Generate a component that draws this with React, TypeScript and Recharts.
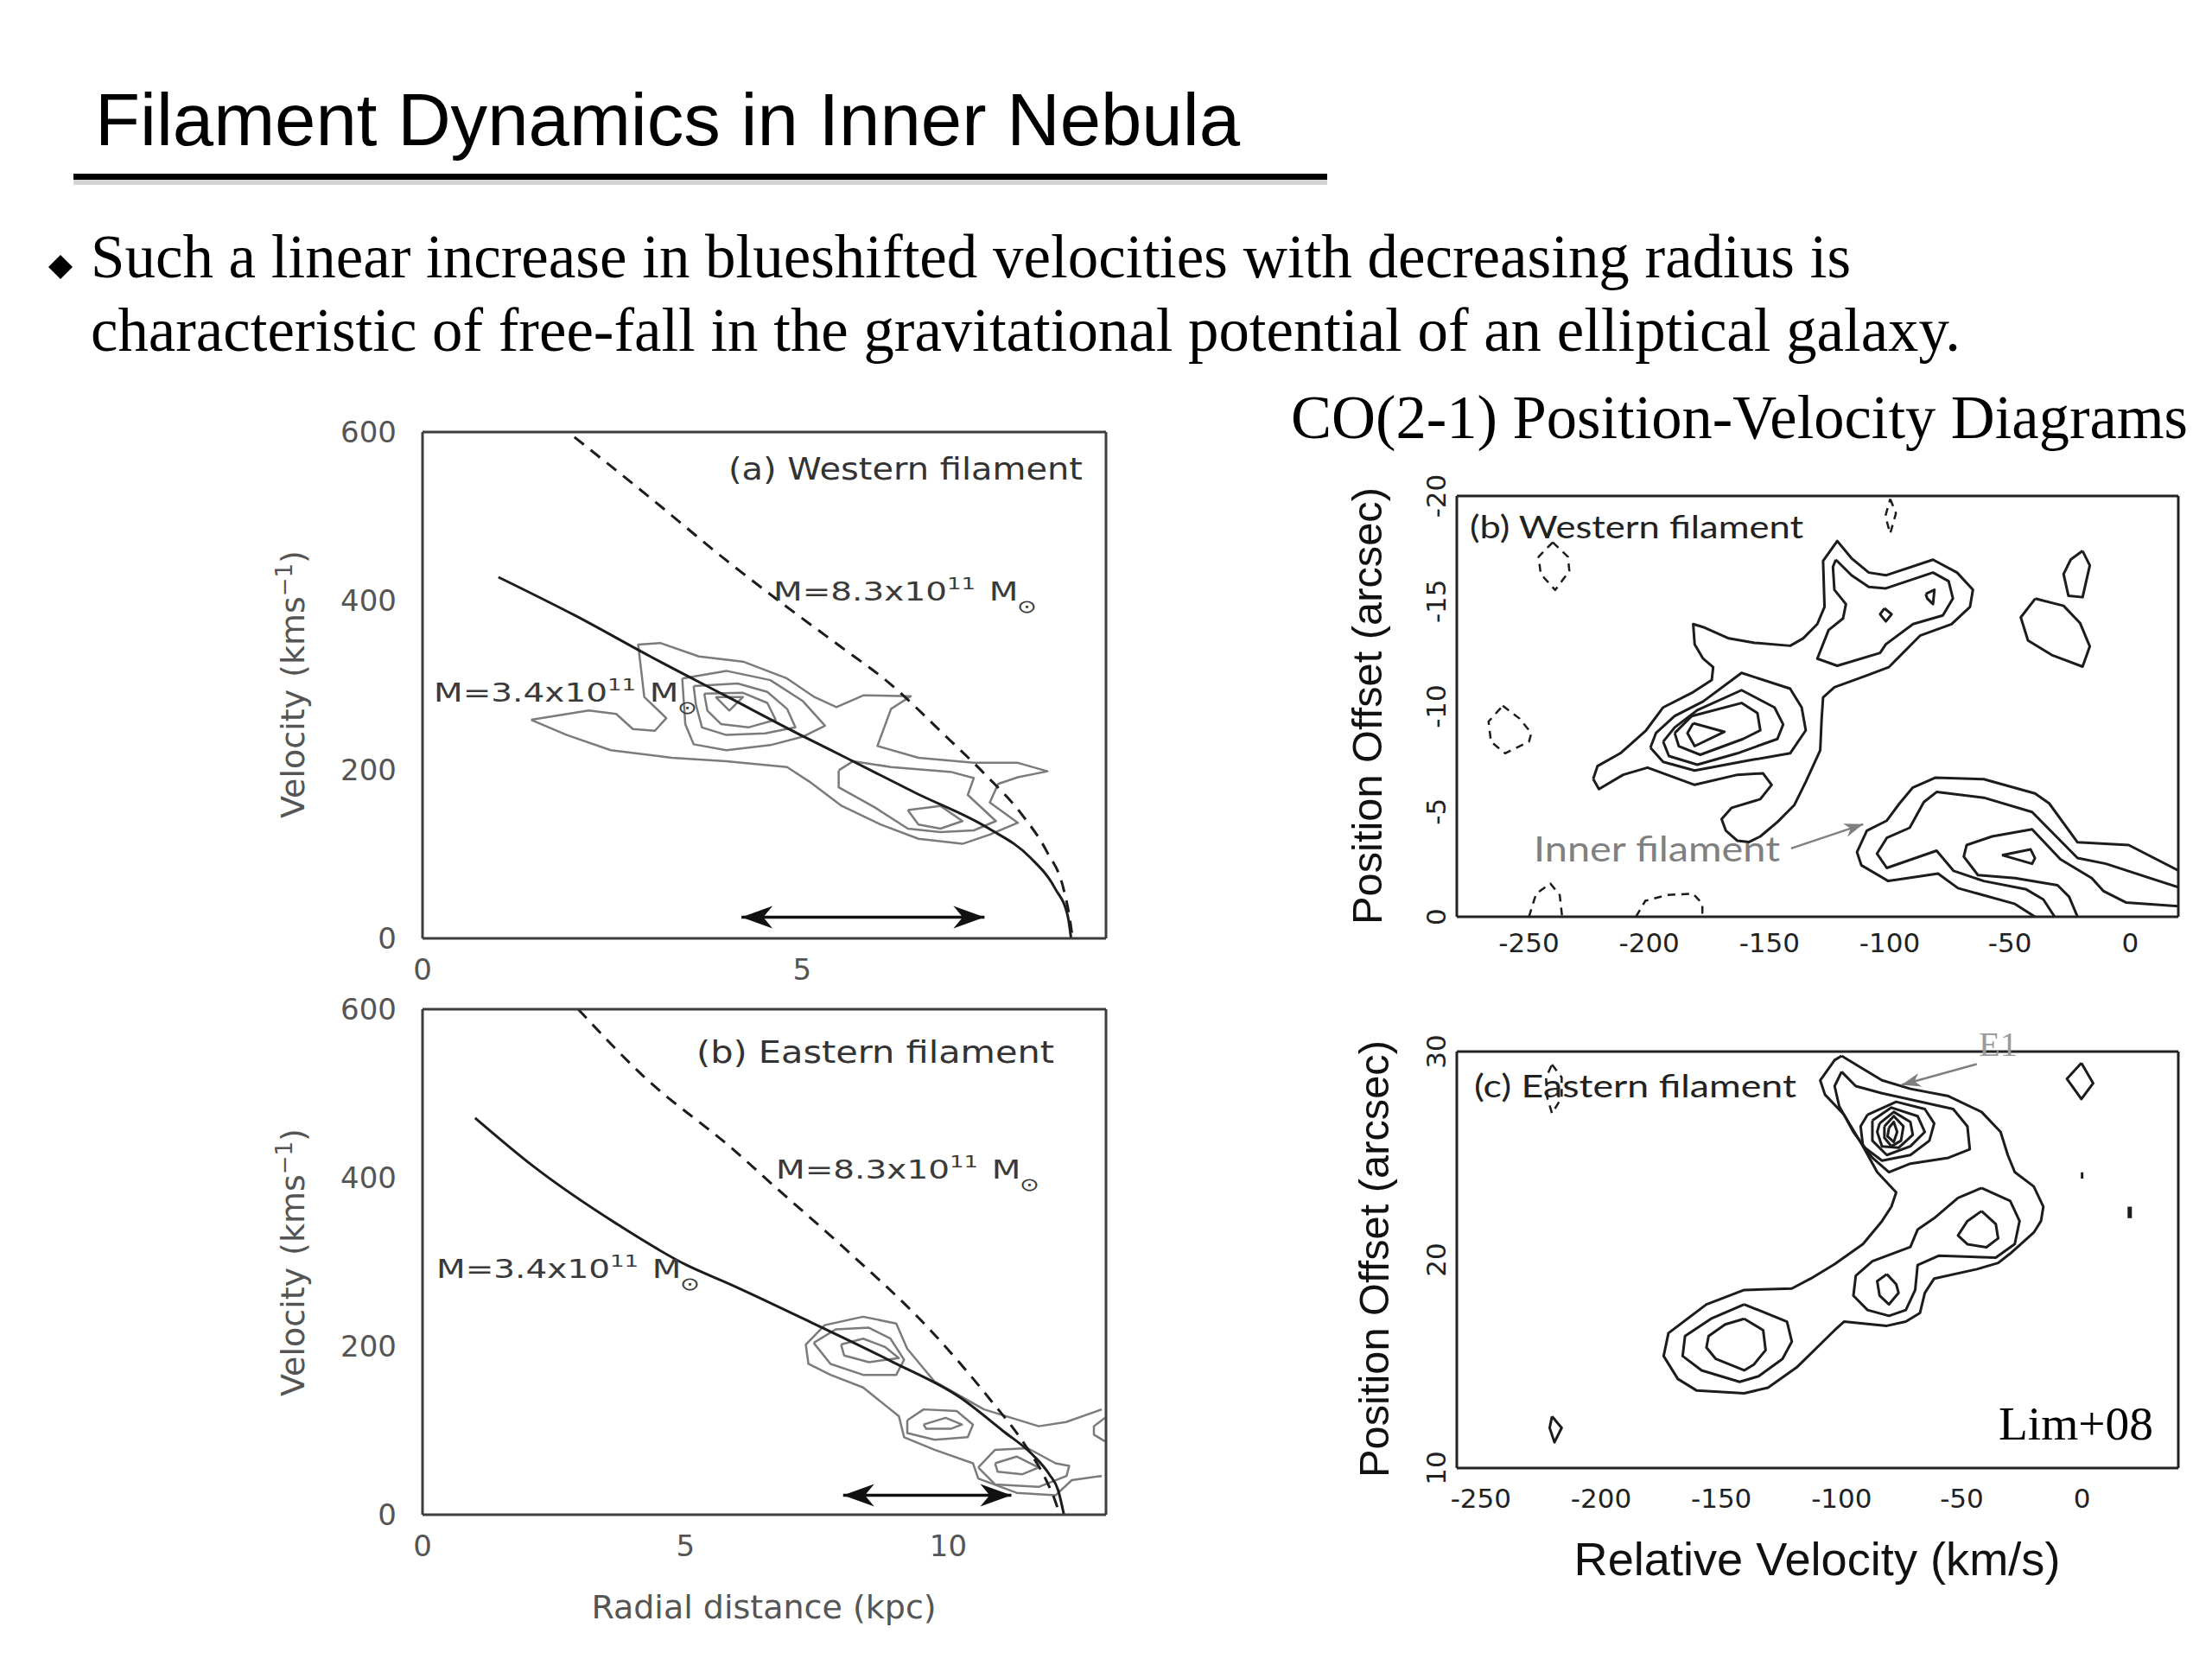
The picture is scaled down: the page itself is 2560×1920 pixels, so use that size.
import React from 'react';
import { ComposedChart, Line, XAxis, YAxis, ReferenceLine } from 'recharts';

type Pair = [number, number];
const pts = (a: Pair[]) => a.map(([x, y]) => ({ x, y }));

// ---------- tick values ----------
const kinVelTicks = [0, 200, 400, 600];
const kinVelMinor = [0, 100, 200, 300, 400, 500, 600];
const westRadTicks = [0, 5];
const westRadMinor = [0, 1, 2, 3, 4, 5, 6, 7, 8, 9];
const eastRadTicks = [0, 5, 10];
const eastRadMinor = [0, 1, 2, 3, 4, 5, 6, 7, 8, 9, 10, 11, 12, 13];
const pvVelTicks = [-250, -200, -150, -100, -50, 0];
const pvwVelMinor = [-280, -270, -260, -250, -240, -230, -220, -210, -200, -190, -180, -170, -160, -150, -140, -130, -120, -110, -100, -90, -80, -70, -60, -50, -40, -30, -20, -10, 0, 10, 20];
const pvwPosTicks = [-20, -15, -10, -5, 0];
const pvwPosMinor = [-20, -19, -18, -17, -16, -15, -14, -13, -12, -11, -10, -9, -8, -7, -6, -5, -4, -3, -2, -1, 0];
const pveVelMinor = [-260, -250, -240, -230, -220, -210, -200, -190, -180, -170, -160, -150, -140, -130, -120, -110, -100, -90, -80, -70, -60, -50, -40, -30, -20, -10, 0, 10, 20, 30, 40];
const pvePosTicks = [10, 20, 30];
const pvePosMinor = [10, 12, 14, 16, 18, 20, 22, 24, 26, 28, 30];

// ---------- (a) western filament: velocity vs radius ----------
const westModelLow = pts([[1, 428], [2, 383], [3, 334], [4, 287], [5, 240], [5.6, 213], [6.5, 172], [7.46, 130], [8.0, 96], [8.33, 59], [8.5, 25], [8.54, 0]]);
const westModelHigh = pts([[2.0, 594], [3.0, 522], [4.0, 448], [4.72, 398], [5.5, 346], [6.14, 303], [6.85, 243], [7.4, 195], [7.89, 147], [8.22, 103], [8.44, 59], [8.52, 25], [8.56, 0]]);
const westOuter = pts([[1.43, 259], [2.19, 270], [2.55, 266], [2.77, 248], [3.06, 246], [3.21, 261], [2.92, 286], [2.84, 348], [3.13, 350], [3.64, 334], [4.22, 328], [4.8, 308], [5.16, 286], [5.45, 274], [5.81, 288], [6.43, 287], [6.17, 272], [5.99, 228], [6.53, 214], [7.26, 208], [7.84, 208], [8.23, 198], [7.84, 191], [7.58, 183], [7.47, 161], [7.84, 137], [7.47, 123], [7.11, 112], [6.53, 118], [6.03, 135], [5.52, 157], [5.09, 186], [4.8, 203], [4.0, 210], [3.28, 214], [2.48, 223], [1.9, 241], [1.43, 259]]);
const westRing2 = pts([[3.42, 308], [4.0, 317], [4.58, 306], [5.01, 281], [5.3, 252], [5.01, 239], [4.58, 229], [4.0, 223], [3.57, 230], [3.46, 254], [3.42, 308]]);
const westRing3 = pts([[3.57, 299], [4.15, 302], [4.54, 292], [4.8, 272], [4.91, 250], [4.51, 243], [4.0, 241], [3.68, 250], [3.6, 277], [3.57, 299]]);
const westRing4 = pts([[3.71, 290], [4.22, 291], [4.54, 279], [4.65, 259], [4.29, 250], [3.93, 254], [3.75, 270], [3.71, 290]]);
const westPeak = pts([[3.86, 286], [4.22, 286], [4.04, 270], [3.86, 286]]);
const westLow2 = pts([[5.48, 199], [5.67, 210], [6.17, 203], [6.97, 197], [7.26, 190], [7.18, 170], [7.55, 139], [7.26, 128], [6.82, 126], [6.39, 130], [5.96, 155], [5.48, 179], [5.48, 199]]);
const westLow3 = pts([[6.39, 152], [6.82, 157], [7.11, 139], [6.82, 130], [6.53, 135], [6.39, 152]]);
const westArrow = [{ x: 4.2, y: 25 }, { x: 7.4, y: 25 }];

// ---------- (b) eastern filament: velocity vs radius ----------
const eastModelLow = pts([[1.0, 471], [2.1, 414], [3.7, 345], [5.0, 297], [5.87, 273], [7.5, 225], [8.92, 182], [10.23, 139], [11.05, 99], [11.59, 72], [11.92, 48], [12.09, 29], [12.2, 0]]);
const eastModelHigh = pts([[2.96, 600], [4.21, 520], [5.92, 433], [6.69, 390], [8.05, 315], [9.69, 217], [10.78, 138], [11.49, 80], [11.87, 40], [12.03, 17], [12.12, 0]]);
const eastOuter = pts([[12.92, 46], [12.35, 41], [12.04, 23], [11.3, 26], [10.57, 43], [10.47, 61], [9.74, 77], [9.16, 92], [9.06, 117], [8.38, 151], [7.76, 166], [7.34, 179], [7.29, 202], [7.65, 225], [8.38, 235], [9.01, 227], [9.22, 197], [9.74, 158], [10.68, 125], [11.72, 105], [12.24, 110], [12.92, 125]]);
const eastUpper2 = pts([[7.44, 204], [7.86, 220], [8.49, 222], [8.9, 209], [9.16, 184], [9.01, 166], [8.38, 166], [7.76, 179], [7.44, 204]]);
const eastUpper3 = pts([[7.96, 202], [8.38, 209], [8.8, 199], [9.06, 186], [8.49, 181], [8.02, 189], [7.96, 202]]);
const eastMid2 = pts([[9.22, 112], [9.53, 125], [10.16, 123], [10.47, 107], [10.37, 92], [9.74, 89], [9.22, 97], [9.22, 112]]);
const eastMid3 = pts([[9.53, 107], [9.95, 115], [10.26, 107], [10.05, 102], [9.58, 102], [9.53, 107]]);
const eastLow2 = pts([[10.57, 56], [10.89, 77], [11.51, 79], [12.04, 61], [12.3, 58], [12.25, 46], [11.72, 33], [10.89, 36], [10.57, 56]]);
const eastLow3 = pts([[10.89, 61], [11.3, 69], [11.72, 56], [11.41, 48], [10.94, 51], [10.89, 61]]);
const eastEdge = pts([[12.98, 115], [12.77, 105], [12.77, 95], [12.98, 87]]);
const eastArrow = [{ x: 8.0, y: 23 }, { x: 11.2, y: 23 }];

// ---------- (b) western filament PV diagram ----------
const pvwOuter = pts([[-223.3, -6.55], [-221.5, -7.16], [-212.0, -7.77], [-201.3, -8.86], [-194.2, -9.95], [-182.3, -10.64], [-174.0, -11.25], [-173.4, -11.86], [-177.6, -12.27], [-181.1, -12.95], [-181.7, -13.91], [-177.6, -13.77], [-166.9, -13.23], [-156.2, -13.02], [-141.4, -12.88], [-136.0, -13.23], [-130.1, -13.91], [-127.1, -14.73], [-127.7, -16.91], [-121.8, -17.86], [-115.9, -17.04], [-108.7, -16.36], [-101.6, -16.23], [-82.0, -16.97], [-72.0, -16.36], [-65.4, -15.54], [-66.6, -14.73], [-74.3, -13.91], [-87.4, -13.36], [-100.4, -11.86], [-109.9, -11.45], [-123.0, -10.91], [-127.7, -10.43], [-128.3, -9.41], [-128.9, -7.91], [-134.9, -6.41], [-139.6, -5.32], [-146.7, -4.5], [-153.8, -3.82], [-158.6, -3.55], [-163.3, -3.61], [-168.1, -4.09], [-169.9, -4.64], [-165.7, -5.18], [-153.8, -5.59], [-149.1, -6.27], [-152.7, -6.82], [-163.3, -6.75], [-181.1, -6.27], [-200.7, -7.09], [-210.8, -6.75], [-220.9, -6.07], [-223.3, -6.55]]);
const pvwUpper2 = pts([[-122.4, -16.97], [-115.9, -16.23], [-108.7, -15.68], [-101.6, -15.61], [-82.0, -16.36], [-75.5, -15.95], [-73.7, -15.13], [-77.9, -14.32], [-90.3, -13.91], [-101.6, -12.95], [-104.0, -12.54], [-121.8, -11.93], [-130.1, -12.27], [-125.4, -13.63], [-119.4, -14.18], [-118.2, -14.86], [-123.0, -15.54], [-123.6, -16.63], [-122.4, -16.97]]);
const pvwDot1 = pts([[-102.2, -14.66], [-99.2, -14.38], [-101.6, -14.04], [-104.0, -14.38], [-102.2, -14.66]]);
const pvwDot2 = pts([[-85.0, -15.34], [-81.4, -15.54], [-82.0, -14.86], [-84.4, -15.13], [-85.0, -15.34]]);
const pvwLow2 = pts([[-199.5, -8.04], [-197.2, -8.73], [-189.4, -9.54], [-177.6, -10.23], [-161.6, -11.59], [-141.4, -10.84], [-136.6, -9.95], [-134.9, -8.86], [-141.4, -7.77], [-158.6, -7.43], [-181.1, -6.95], [-194.2, -7.36], [-199.5, -8.04]]);
const pvwLow3 = pts([[-194.2, -8.32], [-189.4, -9.0], [-180.0, -9.82], [-161.6, -10.77], [-147.9, -9.95], [-144.3, -9.14], [-146.7, -8.45], [-163.3, -7.77], [-180.0, -7.23], [-191.8, -7.64], [-194.2, -8.32]]);
const pvwLow4 = pts([[-189.4, -8.73], [-182.3, -9.54], [-161.6, -10.16], [-155.0, -9.68], [-153.8, -8.86], [-161.0, -8.45], [-178.8, -7.7], [-187.7, -8.11], [-189.4, -8.73]]);
const pvwLow5 = pts([[-181.7, -9.2], [-168.7, -8.79], [-181.1, -8.11], [-184.1, -8.73], [-181.7, -9.2]]);
const pvwInner1 = pts([[-39.6, 0], [-47.9, -0.61], [-71.6, -1.36], [-79.9, -2.05], [-100.6, -1.7], [-111.8, -2.45], [-113.6, -3.07], [-109.5, -4.09], [-101.2, -4.57], [-95.9, -5.39], [-90.5, -6.13], [-81.1, -6.61], [-60.9, -6.54], [-39.6, -5.86], [-33.7, -5.39], [-21.9, -3.54], [-0.6, -3.41], [20, -2.2]]);
const pvwInner2 = pts([[-31.4, 0], [-36.1, -0.82], [-43.2, -1.3], [-60.9, -1.7], [-73.4, -2.18], [-80.5, -3.14], [-101.2, -2.32], [-105.3, -3.0], [-101.2, -3.75], [-91.7, -4.23], [-85.8, -5.45], [-80.5, -5.93], [-60.9, -5.66], [-40.8, -4.98], [-21.9, -2.79], [-10.1, -2.52], [20, -1.4]]);
const pvwInner3 = pts([[-21.9, 0], [-25.4, -0.95], [-30.2, -1.5], [-47.9, -1.84], [-63.3, -1.98], [-69.2, -2.86], [-68.0, -3.41], [-57.4, -3.82], [-40.8, -4.16], [-29.0, -2.73], [-16.0, -1.84], [-11.2, -1.23], [-1.8, -0.68], [20, -0.5]]);
const pvwInner4 = pts([[-53.3, -2.93], [-41.4, -3.2], [-39.6, -2.79], [-40.8, -2.52], [-53.3, -2.93]]);
const pvwBlobA = pts([[-39.5, -15.12], [-27.7, -14.78], [-20.8, -13.95], [-16.8, -12.85], [-19.8, -11.89], [-32.6, -12.44], [-42.5, -13.13], [-45.5, -14.23], [-39.5, -15.12]]);
const pvwBlobB = pts([[-19.8, -17.39], [-16.8, -16.7], [-19.8, -15.19], [-25.7, -15.26], [-27.7, -16.29], [-24.7, -16.98], [-19.8, -17.39]]);
const pvwNegA = pts([[-240.1, -17.8], [-233.8, -17.11], [-233.2, -16.43], [-239.1, -15.53], [-245.1, -16.29], [-246.0, -17.11], [-240.1, -17.8]]);
const pvwNegB = pts([[-99.8, -19.86], [-97.4, -19.18], [-99.8, -18.21], [-101.8, -19.04], [-99.8, -19.86]]);
const pvwNegC = pts([[-260.9, -10.03], [-253.9, -9.42], [-249.0, -8.73], [-250.0, -8.32], [-259.9, -7.77], [-265.8, -8.32], [-266.8, -9.28], [-260.9, -10.03]]);
const pvwNegD = pts([[-250, 0], [-247, -1.1], [-241.1, -1.58], [-237.2, -1.03], [-236.2, 0]]);
const pvwNegE = pts([[-205.5, 0], [-201.6, -0.76], [-192.7, -1.03], [-181.8, -1.1], [-177.9, -0.62], [-177.9, 0]]);
const pvwInnerArrow = [{ x: -141, y: -3.25 }, { x: -111, y: -4.4 }];

// ---------- (c) eastern filament PV diagram ----------
const pveOuter = pts([[-100.0, 29.79], [-91.1, 29.17], [-83.2, 28.62], [-71.4, 28.21], [-55.6, 27.86], [-41.8, 27.1], [-33.9, 26.14], [-30.9, 25.03], [-28.0, 24.21], [-20.1, 23.52], [-16.1, 22.55], [-17.1, 21.86], [-20.1, 21.31], [-29.9, 20.3], [-34.9, 19.85], [-43.8, 19.55], [-61.5, 19.1], [-65.4, 18.41], [-67.4, 17.45], [-73.3, 17.03], [-81.2, 16.83], [-99.0, 17.03], [-102.9, 16.62], [-118.7, 14.83], [-130.6, 13.86], [-140.5, 13.59], [-160.2, 13.72], [-168.1, 14.28], [-174.0, 15.38], [-172.0, 16.48], [-156.2, 17.86], [-140.5, 18.55], [-120.7, 18.62], [-112.8, 19.1], [-102.9, 19.79], [-91.1, 20.76], [-83.2, 21.86], [-79.3, 22.55], [-77.3, 23.24], [-85.2, 24.21], [-91.1, 25.45], [-99.0, 26.97], [-106.9, 27.93], [-108.9, 28.62], [-102.9, 29.59], [-100.0, 29.79]]);
const pveTop2 = pts([[-100.0, 29.03], [-94.1, 28.34], [-83.2, 28.0], [-53.6, 27.24], [-47.7, 26.41], [-46.7, 25.31], [-55.6, 24.9], [-71.4, 24.62], [-80.3, 24.21], [-87.2, 24.9], [-95.1, 26.14], [-101.0, 27.38], [-102.9, 28.34], [-100.0, 29.03]]);
const pveTop3 = pts([[-89.2, 26.97], [-77.3, 27.59], [-65.4, 27.24], [-61.5, 26.55], [-63.5, 25.72], [-71.4, 25.03], [-83.2, 24.76], [-91.1, 25.45], [-92.1, 26.41], [-89.2, 26.97]]);
const pveTop4 = pts([[-87.2, 26.69], [-79.3, 27.31], [-68.4, 26.9], [-65.4, 26.14], [-71.4, 25.45], [-81.2, 25.03], [-87.2, 25.72], [-87.2, 26.69]]);
const pveTop5 = pts([[-84.2, 26.55], [-78.3, 27.1], [-71.4, 26.62], [-70.4, 26.0], [-76.3, 25.38], [-83.2, 25.45], [-85.2, 26.14], [-84.2, 26.55]]);
const pveTop6 = pts([[-82.2, 26.41], [-78.3, 26.9], [-74.3, 26.41], [-75.3, 25.72], [-79.3, 25.45], [-82.2, 25.86], [-82.2, 26.41]]);
const pveTop7 = pts([[-80.3, 26.34], [-78.3, 26.62], [-76.9, 26.14], [-78.3, 25.66], [-80.9, 25.93], [-80.3, 26.34]]);
const pveMid2 = pts([[-41.8, 23.45], [-29.9, 22.83], [-26.0, 21.86], [-28.0, 20.76], [-35.9, 20.1], [-59.5, 20.2], [-68.4, 19.75], [-69.4, 18.55], [-73.3, 17.59], [-80.3, 17.31], [-89.2, 17.59], [-95.1, 18.28], [-94.1, 19.24], [-87.2, 19.93], [-71.4, 20.62], [-68.4, 21.45], [-61.5, 22.0], [-51.6, 22.97], [-41.8, 23.45]]);
const pveMidR = pts([[-41.8, 22.34], [-35.9, 21.72], [-34.9, 21.03], [-39.8, 20.6], [-47.7, 20.75], [-51.6, 21.17], [-47.7, 21.86], [-41.8, 22.34]]);
const pveMidL = pts([[-81.2, 19.31], [-77.3, 18.83], [-76.3, 18.41], [-80.3, 17.86], [-84.2, 18.28], [-85.2, 18.97], [-81.2, 19.31]]);
const pveLow2 = pts([[-140.5, 17.86], [-122.7, 17.03], [-120.7, 16.07], [-124.6, 15.24], [-134.5, 14.41], [-142.4, 14.14], [-158.2, 14.69], [-166.1, 15.38], [-165.1, 16.34], [-154.3, 17.17], [-140.5, 17.86]]);
const pveLow3 = pts([[-140.5, 17.17], [-132.6, 16.62], [-131.6, 15.66], [-136.5, 14.97], [-140.5, 14.69], [-152.3, 15.24], [-156.2, 15.79], [-155.3, 16.34], [-148.4, 16.9], [-140.5, 17.17]]);
const pveKnotTop = pts([[-0.3, 29.45], [4.6, 28.48], [-0.3, 27.72], [-6.3, 28.69], [-0.3, 29.45]]);
const pveKnotLow = pts([[-220.4, 12.48], [-216.4, 11.93], [-219.4, 11.24], [-221.4, 11.93], [-220.4, 12.48]]);
const pveSpeck1 = pts([[0, 24.2], [0, 23.9]]);
const pveSpeck2 = pts([[19.8, 22.55], [19.8, 22.0]]);
const pveNeg = pts([[-220.4, 29.38], [-216.4, 28.76], [-216.4, 27.79], [-220.4, 27.03], [-222.4, 27.79], [-222.9, 28.76], [-220.4, 29.38]]);
const pveE1Arrow = [{ x: -43.8, y: 29.4 }, { x: -75, y: 28.4 }];

const massHigh = '8.3';
const massLow = '3.4';

// ---------- styling ----------
const serif = 'Liberation Serif, Times New Roman, serif';
const sans = 'Liberation Sans, Arial, sans-serif';
const dejavu = 'DejaVu Sans, sans-serif';
const lato = 'Lato, sans-serif';
const GREY = '#7b7b7b';
const INK = '#1c1c1c';

function ArrowShape(props: any) {
  const { x1, y1, x2, y2, stroke, strokeWidth, both, len, half } = props;
  const dx = x2 - x1;
  const dy = y2 - y1;
  const L = Math.hypot(dx, dy) || 1;
  const ux = dx / L;
  const uy = dy / L;
  const nx = -uy;
  const ny = ux;
  const head = (tx: number, ty: number, sx: number, sy: number) => {
    const bx = tx - sx * len;
    const by = ty - sy * len;
    const mx = tx - sx * len * 0.7;
    const my = ty - sy * len * 0.7;
    return `${tx},${ty} ${bx + nx * half},${by + ny * half} ${mx},${my} ${bx - nx * half},${by - ny * half}`;
  };
  return (
    <g>
      <line x1={x1} y1={y1} x2={x2} y2={y2} stroke={stroke} strokeWidth={strokeWidth} />
      <polygon points={head(x2, y2, ux, uy)} fill={stroke} />
      {both && <polygon points={head(x1, y1, -ux, -uy)} fill={stroke} />}
    </g>
  );
}

function RotTick(props: any) {
  const { x, y, payload } = props;
  return (
    <text x={x} y={y} transform={`rotate(-90 ${x} ${y})`} textAnchor="middle" fontFamily={dejavu} fontSize={31} fill="#222">
      {payload.value}
    </text>
  );
}

function contour(key: string, data: { x: number; y: number }[], stroke: string, width: number, dash?: string, curve: 'linear' | 'monotone' = 'linear') {
  return (
    <Line
      key={key}
      xAxisId="x"
      yAxisId="y"
      data={data}
      dataKey="y"
      type={curve}
      stroke={stroke}
      strokeWidth={width}
      strokeDasharray={dash}
      strokeLinejoin="round"
      dot={false}
      activeDot={false}
      legendType="none"
      isAnimationActive={false}
    />
  );
}

type PanelProps = {
  left: number;
  top: number;
  width: number;
  height: number;
  mTop: number;
  mRight: number;
  xDomain: [number, number];
  yDomain: [number, number];
  reversed?: boolean;
  xTicks: number[];
  xMinor: number[];
  yTicks: number[];
  yMinor: number[];
  frame: string;
  majorLen: number;
  minorLen: number;
  xAxisH: number;
  xGap: number;
  yGap: number;
  tickStyle: any;
  yTick?: any;
  children: React.ReactNode;
};

function Panel(p: PanelProps) {
  const axisLine = { stroke: p.frame, strokeWidth: 3 };
  const tickLine = { stroke: p.frame, strokeWidth: 2.5 };
  const xa = (id: string, orientation: 'top' | 'bottom', ticks: number[], len: number, withLine: boolean) => (
    <XAxis key={id} xAxisId={id} orientation={orientation} mirror type="number" domain={p.xDomain} allowDataOverflow
      ticks={ticks} interval={0} tick={false} tickSize={len} tickLine={tickLine} axisLine={withLine ? axisLine : false} height={1} />
  );
  const ya = (id: string, orientation: 'left' | 'right', ticks: number[], len: number, withLine: boolean) => (
    <YAxis key={id} yAxisId={id} orientation={orientation} mirror type="number" domain={p.yDomain} allowDataOverflow reversed={p.reversed}
      ticks={ticks} interval={0} tick={false} tickSize={len} tickLine={tickLine} axisLine={withLine ? axisLine : false} width={1} />
  );
  return (
    <div style={{ position: 'absolute', left: p.left, top: p.top }}>
      <ComposedChart width={p.width} height={p.height} margin={{ top: p.mTop, right: p.mRight, bottom: 0, left: 0 }}>
        <XAxis xAxisId="x" dataKey="x" type="number" domain={p.xDomain} allowDataOverflow ticks={p.xTicks} interval={0}
          tickLine={false} axisLine={false} tickSize={0} tickMargin={p.xGap} height={p.xAxisH} tick={p.tickStyle} />
        <YAxis yAxisId="y" dataKey="y" type="number" domain={p.yDomain} allowDataOverflow reversed={p.reversed} ticks={p.yTicks} interval={0}
          tickLine={false} axisLine={false} tickSize={0} tickMargin={p.yGap} width={100} tick={p.yTick ?? p.tickStyle} />
        {xa('xb', 'bottom', p.xTicks, p.majorLen, true)}
        {xa('xbm', 'bottom', p.xMinor, p.minorLen, false)}
        {xa('xt', 'top', p.xTicks, p.majorLen, true)}
        {xa('xtm', 'top', p.xMinor, p.minorLen, false)}
        {ya('yl', 'left', p.yTicks, p.majorLen, true)}
        {ya('ylm', 'left', p.yMinor, p.minorLen, false)}
        {ya('yr', 'right', p.yTicks, p.majorLen, true)}
        {ya('yrm', 'right', p.yMinor, p.minorLen, false)}
        {p.children}
      </ComposedChart>
    </div>
  );
}

function MassLabel({ x, y, mant }: { x: number; y: number; mant: string }) {
  return (
    <g transform={`translate(${x} ${y}) scale(1.3 1)`}>
      <text x={0} y={0} fontFamily={dejavu} fontSize={30} fill="#3a3a3a">
        {`M=${mant}x10`}
        <tspan y={-13} fontSize={20}>11</tspan>
        <tspan y={0} dx={12} fontSize={30}>M</tspan>
        <tspan y={14} dx={-1} fontSize={21}>⊙</tspan>
      </text>
    </g>
  );
}

const leftTick = { fill: '#555', fontSize: 34, fontFamily: dejavu };
const rightTick = { fill: '#222', fontSize: 31, fontFamily: dejavu };

export default function App() {
  return (
    <div style={{ position: 'absolute', left: 0, top: 0, width: 2560, height: 1920, background: '#fff', overflow: 'hidden' }}>
      <Panel left={389} top={480} width={911} height={676} mTop={20} mRight={20}
        xDomain={[0, 9]} yDomain={[0, 600]} xTicks={westRadTicks} xMinor={westRadMinor} yTicks={kinVelTicks} yMinor={kinVelMinor}
        frame="#3d3d3d" majorLen={20} minorLen={12} xAxisH={70} xGap={24} yGap={30} tickStyle={leftTick}>
        {contour('wo', westOuter, GREY, 2.5)}
        {contour('w2', westRing2, GREY, 2.5)}
        {contour('w3', westRing3, GREY, 2.5)}
        {contour('w4', westRing4, GREY, 2.5)}
        {contour('w5', westPeak, GREY, 2.5)}
        {contour('wl2', westLow2, GREY, 2.5)}
        {contour('wl3', westLow3, GREY, 2.5)}
        {contour('wml', westModelLow, INK, 3, undefined, 'monotone')}
        {contour('wmh', westModelHigh, INK, 3, '14 10', 'monotone')}
        <ReferenceLine xAxisId="x" yAxisId="y" segment={westArrow} stroke="#111" strokeWidth={3.5}
          shape={(s: any) => <ArrowShape {...s} both len={36} half={13} />} />
      </Panel>

      <Panel left={389} top={1148} width={911} height={676} mTop={20} mRight={20}
        xDomain={[0, 13]} yDomain={[0, 600]} xTicks={eastRadTicks} xMinor={eastRadMinor} yTicks={kinVelTicks} yMinor={kinVelMinor}
        frame="#3d3d3d" majorLen={20} minorLen={12} xAxisH={71} xGap={24} yGap={30} tickStyle={leftTick}>
        {contour('eo', eastOuter, GREY, 2.5)}
        {contour('eu2', eastUpper2, GREY, 2.5)}
        {contour('eu3', eastUpper3, GREY, 2.5)}
        {contour('em2', eastMid2, GREY, 2.5)}
        {contour('em3', eastMid3, GREY, 2.5)}
        {contour('el2', eastLow2, GREY, 2.5)}
        {contour('el3', eastLow3, GREY, 2.5)}
        {contour('ee', eastEdge, GREY, 2.5)}
        {contour('eml', eastModelLow, INK, 3, undefined, 'monotone')}
        {contour('emh', eastModelHigh, INK, 3, '14 10', 'monotone')}
        <ReferenceLine xAxisId="x" yAxisId="y" segment={eastArrow} stroke="#111" strokeWidth={3.5}
          shape={(s: any) => <ArrowShape {...s} both len={36} half={13} />} />
      </Panel>

      <Panel left={1586} top={534} width={955} height={598} mTop={40} mRight={20}
        xDomain={[-280, 20]} yDomain={[-20, 0]} reversed xTicks={pvVelTicks} xMinor={pvwVelMinor} yTicks={pvwPosTicks} yMinor={pvwPosMinor}
        frame="#222" majorLen={20} minorLen={10} xAxisH={71} xGap={19} yGap={13} tickStyle={rightTick} yTick={RotTick}>
        {contour('po', pvwOuter, INK, 3)}
        {contour('pu2', pvwUpper2, INK, 3)}
        {contour('pd1', pvwDot1, INK, 3)}
        {contour('pd2', pvwDot2, INK, 3)}
        {contour('pl2', pvwLow2, INK, 3)}
        {contour('pl3', pvwLow3, INK, 3)}
        {contour('pl4', pvwLow4, INK, 3)}
        {contour('pl5', pvwLow5, INK, 3)}
        {contour('pi1', pvwInner1, INK, 3)}
        {contour('pi2', pvwInner2, INK, 3)}
        {contour('pi3', pvwInner3, INK, 3)}
        {contour('pi4', pvwInner4, INK, 3)}
        {contour('pba', pvwBlobA, INK, 3)}
        {contour('pbb', pvwBlobB, INK, 3)}
        {contour('pna', pvwNegA, INK, 2.5, '9 7')}
        {contour('pnb', pvwNegB, INK, 2.5, '9 7')}
        {contour('pnc', pvwNegC, INK, 2.5, '9 7')}
        {contour('pnd', pvwNegD, INK, 2.5, '9 7')}
        {contour('pne', pvwNegE, INK, 2.5, '9 7')}
        <ReferenceLine xAxisId="x" yAxisId="y" segment={pvwInnerArrow} stroke="#7f7f7f" strokeWidth={2.5}
          shape={(s: any) => <ArrowShape {...s} len={22} half={8} />} />
      </Panel>

      <Panel left={1586} top={1177} width={955} height={598} mTop={40} mRight={20}
        xDomain={[-260, 40]} yDomain={[10, 30]} xTicks={pvVelTicks} xMinor={pveVelMinor} yTicks={pvePosTicks} yMinor={pvePosMinor}
        frame="#222" majorLen={20} minorLen={10} xAxisH={76} xGap={24} yGap={13} tickStyle={rightTick} yTick={RotTick}>
        {contour('qo', pveOuter, INK, 3)}
        {contour('qt2', pveTop2, INK, 3)}
        {contour('qt3', pveTop3, INK, 3)}
        {contour('qt4', pveTop4, INK, 3)}
        {contour('qt5', pveTop5, INK, 3)}
        {contour('qt6', pveTop6, INK, 3)}
        {contour('qt7', pveTop7, INK, 3)}
        {contour('qm2', pveMid2, INK, 3)}
        {contour('qmr', pveMidR, INK, 3)}
        {contour('qml', pveMidL, INK, 3)}
        {contour('ql2', pveLow2, INK, 3)}
        {contour('ql3', pveLow3, INK, 3)}
        {contour('qkt', pveKnotTop, INK, 3)}
        {contour('qkl', pveKnotLow, INK, 3)}
        {contour('qs1', pveSpeck1, INK, 3)}
        {contour('qs2', pveSpeck2, INK, 5)}
        {contour('qn', pveNeg, INK, 2.5, '9 7')}
        <ReferenceLine xAxisId="x" yAxisId="y" segment={pveE1Arrow} stroke="#7f7f7f" strokeWidth={2.5}
          shape={(s: any) => <ArrowShape {...s} len={22} half={8} />} />
      </Panel>

      <svg width={2560} height={1920} style={{ position: 'absolute', left: 0, top: 0, pointerEvents: 'none' }}>
        <text x={110} y={168} fontFamily={sans} fontSize={86} fill="#000" textLength={1325} lengthAdjust="spacingAndGlyphs">
          Filament Dynamics in Inner Nebula
        </text>
        <rect x={85} y={208} width={1451} height={6} fill="#d4d4d4" />
        <rect x={85} y={201} width={1451} height={7} fill="#000" />
        <polygon points="70,295 84,309 70,323 56,309" fill="#000" />
        <text x={105} y={321} fontFamily={serif} fontSize={71.5} fill="#000" textLength={2037} lengthAdjust="spacingAndGlyphs">
          Such a linear increase in blueshifted velocities with decreasing radius is
        </text>
        <text x={105} y={406} fontFamily={serif} fontSize={71.5} fill="#000" textLength={2164} lengthAdjust="spacingAndGlyphs">
          characteristic of free-fall in the gravitational potential of an elliptical galaxy.
        </text>
        <text x={1494} y={507} fontFamily={serif} fontSize={71.5} fill="#000" textLength={1038} lengthAdjust="spacingAndGlyphs">
          CO(2-1) Position-Velocity Diagrams
        </text>

        {/* left panels */}
        <text x={843} y={555} fontFamily={dejavu} fontSize={36} fill="#333" textLength={410} lengthAdjust="spacingAndGlyphs">
          (a) Western filament
        </text>
        <text x={806} y={1230} fontFamily={dejavu} fontSize={36} fill="#333" textLength={414} lengthAdjust="spacingAndGlyphs">
          (b) Eastern filament
        </text>
        <MassLabel x={895} y={695} mant={massHigh} />
        <MassLabel x={502} y={812} mant={massLow} />
        <MassLabel x={898} y={1364} mant={massHigh} />
        <MassLabel x={505} y={1479} mant={massLow} />
        {[792, 1461].map((cy) => (
          <text key={cy} transform={`translate(352 ${cy}) rotate(-90)`} textAnchor="middle" fontFamily={dejavu} fontSize={38} fill="#555">
            Velocity<tspan dx={14}>(kms</tspan>
            <tspan dy={-14} fontSize={26}>−1</tspan>
            <tspan dy={14}>)</tspan>
          </text>
        ))}
        <text x={884} y={1873} textAnchor="middle" fontFamily={dejavu} fontSize={38} fill="#555">
          Radial distance (kpc)
        </text>

        {/* right panels */}
        <text x={1701} y={623} fontFamily={lato} fontSize={36} fill="#222" textLength={386} lengthAdjust="spacingAndGlyphs">
          (b) Western filament
        </text>
        <text x={1706} y={1270} fontFamily={lato} fontSize={36} fill="#222" textLength={373} lengthAdjust="spacingAndGlyphs">
          (c) Eastern filament
        </text>
        <text x={1775} y={997} fontFamily={lato} fontSize={40} fill="#808080" textLength={285} lengthAdjust="spacingAndGlyphs">
          Inner filament
        </text>
        <text x={2290} y={1222} fontFamily={serif} fontSize={40} fill="#9a9a9a" textLength={45} lengthAdjust="spacingAndGlyphs">
          E1
        </text>
        <text x={2313} y={1666} fontFamily={serif} fontSize={55} fill="#000" textLength={179} lengthAdjust="spacingAndGlyphs">
          Lim+08
        </text>
        {[[1599, 817], [1607, 1457]].map(([bx, cy]) => (
          <text key={cy} transform={`translate(${bx} ${cy}) rotate(-90)`} textAnchor="middle" fontFamily={sans} fontSize={49} fill="#111"
            textLength={506} lengthAdjust="spacingAndGlyphs">
            Position Offset (arcsec)
          </text>
        ))}
        <text x={2103} y={1823} textAnchor="middle" fontFamily={sans} fontSize={54} fill="#111" textLength={563} lengthAdjust="spacingAndGlyphs">
          Relative Velocity (km/s)
        </text>
      </svg>
    </div>
  );
}
